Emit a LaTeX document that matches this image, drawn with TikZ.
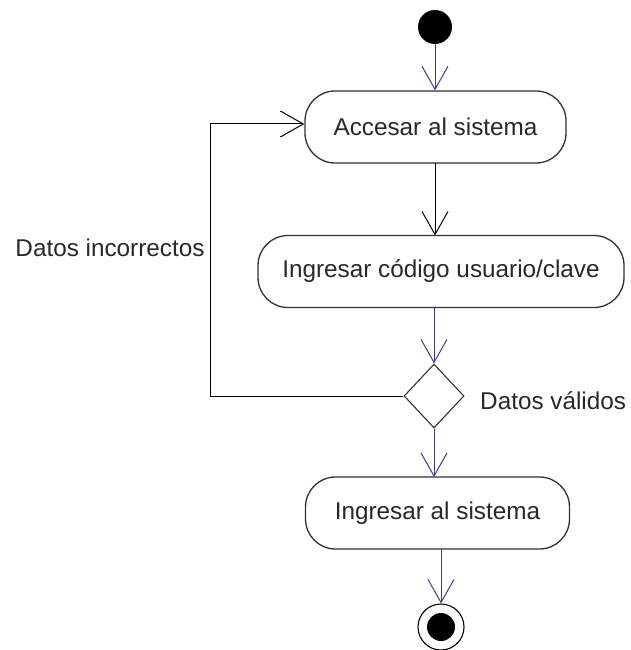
\documentclass[tikz,border=0pt]{standalone}
\usepackage{fontspec}
\setmainfont{Liberation Sans}
\usetikzlibrary{arrows.meta,shapes.geometric}
\definecolor{flowblue}{RGB}{60,60,150}
\definecolor{edgegray}{RGB}{50,50,50}
\definecolor{txtgray}{RGB}{40,40,40}
\tikzset{
  activity/.style={draw=edgegray, line width=1.3pt, fill=white, rounded corners=30pt,
    minimum height=72pt, inner sep=0pt, text=txtgray, font=\fontsize{24.3}{28}\selectfont},
  decision/.style={draw=edgegray, line width=1.1pt, fill=white, diamond, inner sep=0pt,
    minimum width=60pt, minimum height=64pt},
  lbl/.style={text=txtgray, font=\fontsize{24.3}{28}\selectfont, inner sep=0pt},
  flowarrow/.style={draw=flowblue, line width=1pt, -{Straight Barb[length=23pt,width=26pt,line width=1pt]}},
  blackarrow/.style={draw=black, line width=1pt, -{Straight Barb[length=23pt,width=26pt,line width=1pt]}},
  initstate/.style={circle, fill=black, minimum size=34pt, inner sep=0pt},
  finalstate/.style={circle, draw=black, line width=1.1pt, fill=white, minimum size=46pt, inner sep=0pt}
}
\begin{document}
\begin{tikzpicture}[x=1pt,y=-1pt]
\useasboundingbox (0,0) rectangle (630,650);
\node[initstate] (init) at (435,27) {};
\node[activity, minimum width=261pt] (acc) at (435.5,127) {Accesar al sistema};
\node[activity, minimum width=366pt] (cod) at (441,271.5) {Ingresar código usuario/clave};
\node[decision] (dec) at (434,396) {};
\node[activity, minimum width=264pt] (ing) at (437.5,513) {Ingresar al sistema};
\node[finalstate] (fin) at (441,627) {};
\fill[black] (fin.center) circle (14pt);
\node[lbl] (linc) at (110,248) {Datos incorrectos};
\node[lbl, anchor=west] (lval) at (480,401) {Datos válidos};
\coordinate (cornerB) at (210,396);
\coordinate (cornerT) at (210,124);
\coordinate (accbot) at (435,163);
\coordinate (codtop) at (435,235.5);
\coordinate (codbot) at (434,307.5);
\coordinate (ingtop) at (434,477);
\coordinate (ingbot) at (441,549);
\draw[flowarrow] (init.south) -- (init.south |- acc.north);
\draw[blackarrow] (accbot) -- (codtop);
\draw[flowarrow] (codbot) -- (dec.north);
\draw[black, line width=1pt] (dec.west) -- (cornerB) -- (cornerT);
\draw[blackarrow] (cornerT) -- (cornerT -| acc.west);
\draw[flowarrow] (dec.south) -- (ingtop);
\draw[flowarrow] (ingbot) -- (fin.north);
\end{tikzpicture}
\end{document}
